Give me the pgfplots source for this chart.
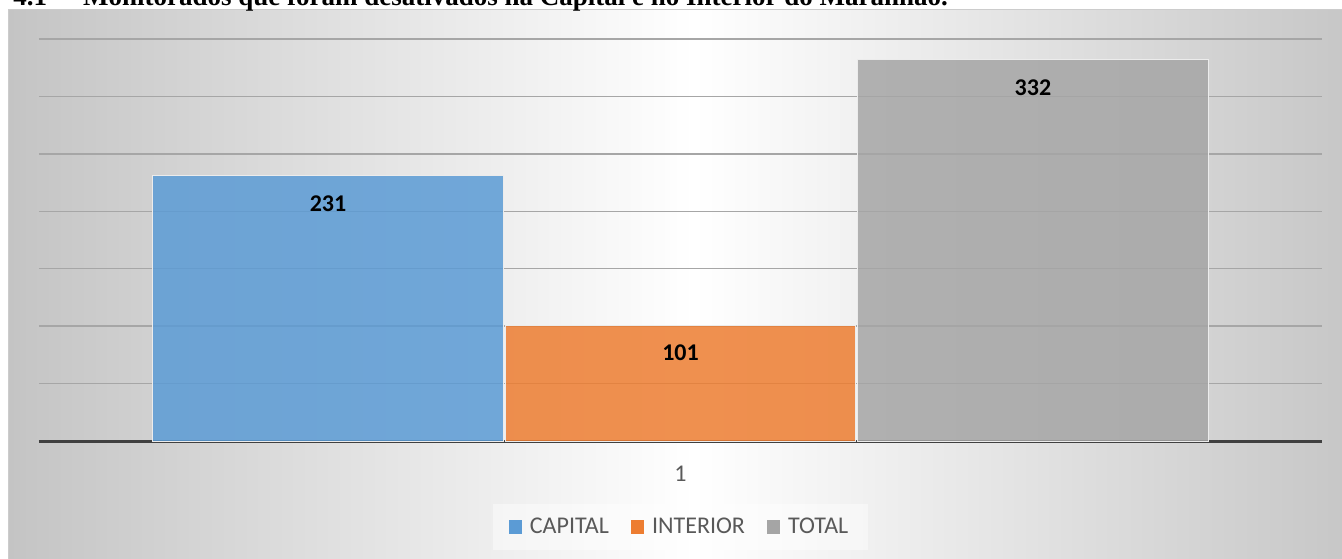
\documentclass[border=0pt]{standalone}
\usepackage{pgfplots}
\pgfplotsset{compat=1.18}
\usepackage{fontspec}
\setmainfont{Carlito}
\newfontfamily\titlefont{Liberation Serif}
\definecolor{capc}{RGB}{91,155,213}
\definecolor{intc}{RGB}{237,125,49}
\definecolor{totc}{RGB}{165,165,165}
\definecolor{txtc}{RGB}{89,89,89}
\definecolor{edgec}{RGB}{196,196,196}
\begin{document}
\begin{tikzpicture}
\begin{scope}[x=0.5pt,y=-0.5pt]
\path[use as bounding box] (0,0) rectangle (1342,558);
\clip (0,0) rectangle (1342,558);
\shade[left color=edgec, right color=edgec, middle color=white] (8,9) rectangle (1380,600);
\draw[gray!40, line width=0.6pt] (8.5,600) -- (8.5,9.5) -- (1380,9.5);
\node[anchor=base west, font=\titlefont\bfseries\fontsize{13.5}{15}\selectfont, inner sep=0] at (13,5) {4.1 \,–\, Monitorados que foram desativados na Capital e no Interior do Maranhão.};
\end{scope}
\begin{axis}[
  at={(19.5pt,-220.5pt)}, anchor=south west,
  scale only axis, width=641.5pt, height=201pt,
  xmin=-1.82, xmax=1.82, ymin=0, ymax=350,
  ybar, bar width=0.995, bar shift=0pt,
  axis x line*=bottom, axis y line*=left,
  x axis line style={line width=1.5pt, color={rgb,255:red,64;green,64;blue,64}},
  y axis line style={draw=none},
  major tick length=0pt,
  ytick={50,100,...,350}, yticklabels={},
  ymajorgrids, grid style={color=gray!70, line width=0.7pt},
  xtick={0}, xticklabels={1},
  xticklabel style={font=\fontsize{12}{14}\selectfont, text=txtc, yshift=-9pt},
  /pgf/number format/assume math mode=true,
  nodes near coords,
  every node near coord/.append style={anchor=center, yshift=-14pt, font=\bfseries\fontsize{12}{14}\selectfont, text=black, text opacity=1},
  legend style={at={(0.5,-0.214)}, anchor=center, legend columns=3, draw=none, fill=white, fill opacity=0.45, text opacity=1, text=txtc, font=\fontsize{12}{14}\selectfont, inner xsep=8pt, inner ysep=5pt,
    /tikz/every even column/.append style={column sep=9pt},
    /tikz/every odd column/.append style={column sep=2pt}},
  legend image code/.code={\fill[#1,fill opacity=1,draw=none] (0pt,-3.3pt) rectangle (6.6pt,3.3pt);},
]
\addplot[fill=capc, fill opacity=0.85, draw=white!85!gray, line width=0.5pt] coordinates {(-1,231)};
\addplot[fill=intc, fill opacity=0.85, draw=white!85!gray, line width=0.5pt] coordinates {(0,101)};
\addplot[fill=totc, fill opacity=0.85, draw=white!85!gray, line width=0.5pt] coordinates {(1,332)};
\legend{CAPITAL, INTERIOR, TOTAL}
\end{axis}
\end{tikzpicture}
\end{document}
